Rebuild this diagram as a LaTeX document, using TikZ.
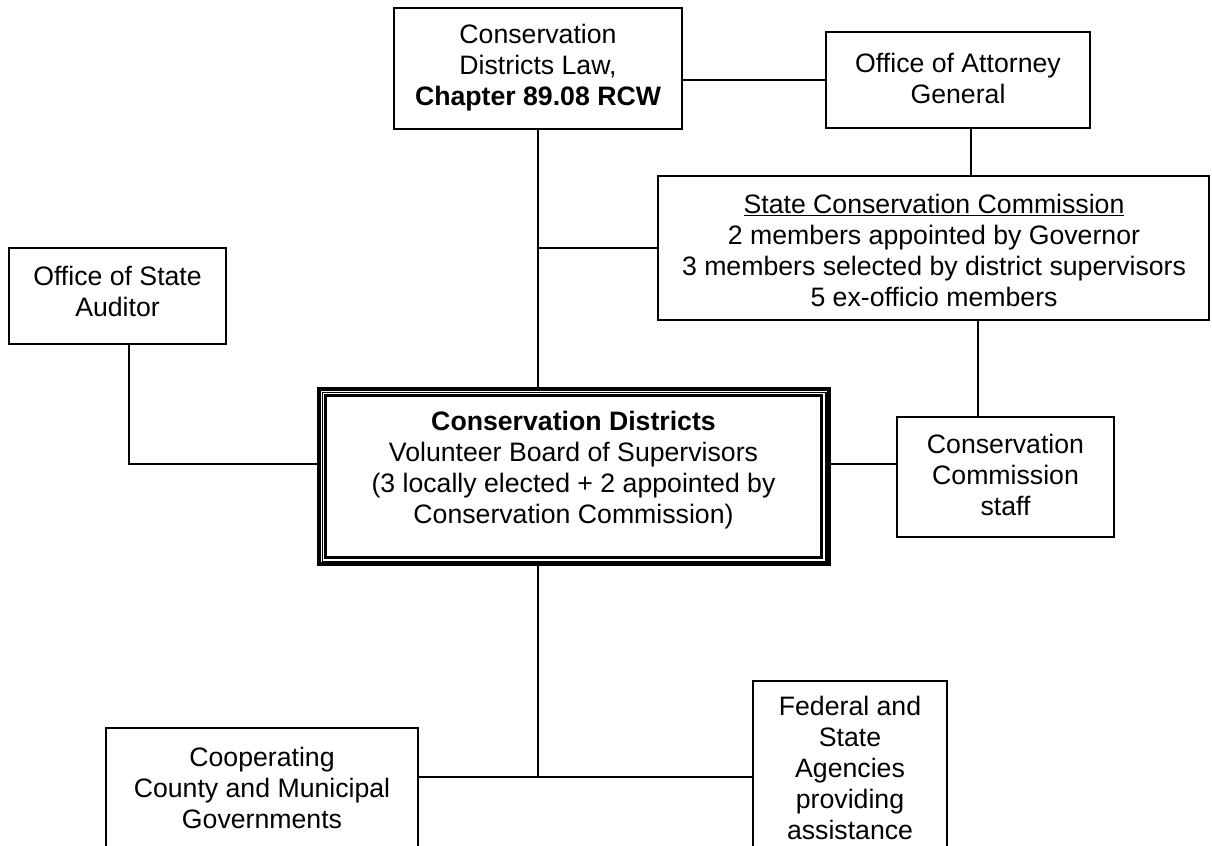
\documentclass[tikz,border=0pt]{standalone}
\usepackage{fontspec}
\setmainfont{Liberation Sans}
\usetikzlibrary{fit}
\begin{document}
\begin{tikzpicture}[x=0.75pt,y=-0.75pt,
  box/.style={draw=black,line width=1.5pt,inner sep=0pt,rectangle},
  txt/.style={align=center,inner sep=0pt,yshift=-1.2pt,font=\fontsize{20}{23.25}\selectfont},
  conn/.style={draw=black,line width=1.2pt}]
\clip (0,0) rectangle (1212,845);
\fill[white] (0,0) rectangle (1212,845);
% boxes
\node[box,fit={(394,8) (682,129)}] (law) {};
\node[txt] (law-t) at (538,66) {Conservation\\Districts Law,\\\textbf{Chapter 89.08 RCW}};
\node[box,fit={(826,32.3) (1089.7,127.7)}] (att) {};
\node[txt] (att-t) at (958,77) {Office of Attorney\\General};
\node[box,fit={(658,175.7) (1209,320)}] (scc) {};
\node[txt] (scc-t) at (934,249) {\underline{State Conservation Commission}\\2 members appointed by Governor\\3 members selected by district supervisors\\5 ex-officio members};
\node[box,fit={(9,248) (226,344)}] (aud) {};
\node[txt] (aud-t) at (117.5,290) {Office of State\\Auditor};
\node[box,fit={(897.3,416.7) (1114,536.7)}] (staff) {};
\node[txt] (staff-t) at (1005.5,473.5) {Conservation\\Commission\\staff};
% main triple-line box
\node[draw=black,line width=2.7pt,inner sep=0pt,rectangle,fit={(318.7,389) (829,564)}] (cd) {};
\node[draw=black,line width=0.8pt,inner sep=0pt,rectangle,fit={(322.7,392.3) (826,561.2)}] (cd-mid) {};
\node[draw=black,line width=2.3pt,inner sep=0pt,rectangle,fit={(325.8,395.5) (821.7,557.7)}] (cd-in) {};
\node[txt] (cd-t) at (573.5,468.5) {\textbf{Conservation Districts}\\Volunteer Board of Supervisors\\(3 locally elected + 2 appointed by\\Conservation Commission)};
\node[box,fit={(106,728) (418,880)}] (county) {};
\node[txt] (county-t) at (262,786) {Cooperating\\County and Municipal\\Governments};
\node[box,fit={(753.3,680.7) (946.7,880)}] (fed) {};
\node[txt] (fed-t) at (850,766.7) {Federal and\\State\\Agencies\\providing\\assistance};
% helper coordinates
\coordinate (xatt) at (970.7,0);
\coordinate (xscc) at (978,0);
\coordinate (audbend) at (129,464);
\coordinate (j2) at (538,777);
% connectors
\draw[conn] (law.east |- att.west) -- (att.west);
\draw[conn] (law.south) -- (law.south |- cd.north);
\draw[conn] (law.south |- scc.west) -- (scc.west);
\draw[conn] (att.south -| xatt) -- (scc.north -| xatt);
\draw[conn] (scc.south -| xscc) -- (staff.north -| xscc);
\draw[conn] (aud.south -| audbend) -- (audbend) -- (audbend -| cd.west);
\draw[conn] (cd.east |- audbend) -- (staff.west |- audbend);
\draw[conn] (law.south |- cd.south) -- (j2);
\draw[conn] (county.east |- j2) -- (fed.west |- j2);
\end{tikzpicture}
\end{document}
